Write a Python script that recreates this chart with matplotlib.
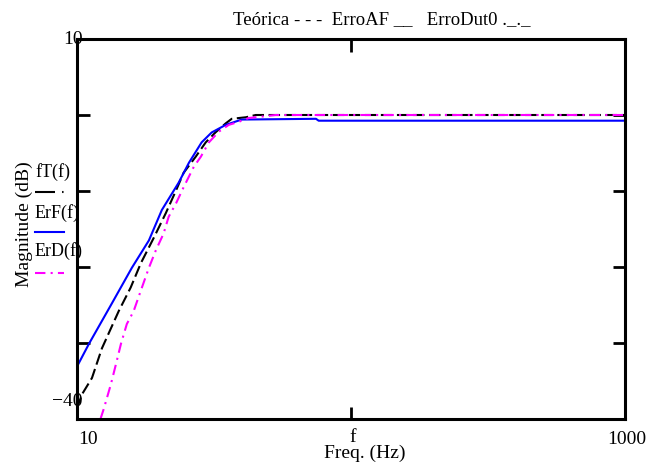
import numpy as np
import matplotlib.pyplot as plt
from matplotlib.lines import Line2D

plt.rcParams["font.family"] = ["Liberation Serif", "DejaVu Serif"]

# magnitude responses (Hz, dB)
freq_teorica = [10.0, 10.43, 11.34, 12.33, 14.2, 15.7, 17.1, 19.1, 21.1, 23.0,
                24.5, 27.1, 29.5, 32.0, 34.9, 36.7, 41.3, 44.9, 100.0, 1000.0]
mag_teorica = [-38.6, -36.75, -34.6, -30.7, -25.8, -22.7, -19.5, -16.1, -12.9, -9.9,
               -7.6, -5.5, -3.6, -2.3, -1.1, -0.5, -0.3, 0.0, 0.0, 0.0]

freq_erro_af = [10.0, 11.06, 13.4, 15.86, 18.3, 20.4, 23.5, 25.6, 28.5, 31.0,
                34.9, 39.9, 74.5, 76.2, 1000.0]
mag_erro_af = [-33.1, -30.1, -24.8, -20.1, -16.5, -12.5, -8.9, -6.3, -3.6, -2.3,
               -1.3, -0.6, -0.5, -0.75, -0.75]

freq_erro_dut = [12.18, 12.54, 13.3, 13.87, 14.47, 15.2, 16.1, 17.1, 18.3, 19.4,
                 20.7, 21.6, 23.0, 24.5, 26.7, 28.3, 30.3, 32.9, 35.8, 38.9,
                 42.3, 53.1, 1000.0]
mag_erro_dut = [-40.0, -38.6, -35.4, -32.8, -30.1, -27.5, -25.8, -23.1, -20.1, -17.8,
                -15.6, -13.4, -11.6, -9.5, -6.8, -5.5, -3.6, -2.2, -1.3, -0.9,
                -0.4, 0.0, 0.0]

W, H = 657, 468


def fx(px):
    return px / W


def fy(py):
    return 1 - py / H


fig = plt.figure(figsize=(6.57, 4.68), dpi=100)
ax = fig.add_axes([fx(77), fy(419), (625 - 77) / W, (419 - 39) / H])

black_style = dict(color="black", lw=1.5, dashes=(5.5, 2.2))
blue_style = dict(color="#0000ff", lw=1.5)
mag_style = dict(color="#ff00ff", lw=1.5, dashes=(5, 2.5, 1, 2.5))

ax.plot(freq_teorica, mag_teorica, **black_style)
ax.plot(freq_erro_af, mag_erro_af, **blue_style)
ax.plot(freq_erro_dut, mag_erro_dut, **mag_style)

ax.set_xscale("log")
ax.set_xlim(10, 1000)
ax.set_ylim(-40, 10)
ax.set_xticks([100])
ax.set_yticks([0, -10, -20, -30])
ax.minorticks_off()
ax.tick_params(axis="both", direction="in", width=2, length=9,
               labelbottom=False, labelleft=False,
               top=True, right=True)
for sp in ax.spines.values():
    sp.set_linewidth(2.2)

# axis labels drawn as plain text
fs = 14
fig.text(fx(73), fy(40), "10", fontsize=fs, ha="center", va="center")
fig.text(fx(67), fy(401), "\u221240", fontsize=fs, ha="center", va="center")
fig.text(fx(88), fy(439), "10", fontsize=fs, ha="center", va="center")
fig.text(fx(353), fy(437), "f", fontsize=fs, ha="center", va="center")
fig.text(fx(627), fy(439), "1000", fontsize=fs, ha="center", va="center")
fig.text(fx(365), fy(453), "Freq. (Hz)", fontsize=fs, ha="center", va="center")
fig.text(fx(24), fy(224), "Magnitude (dB)", fontsize=fs, ha="center",
         va="center", rotation=90)
fig.text(fx(382), fy(20), "Teórica - - -  ErroAF __   ErroDut0 ._._",
         fontsize=13.5, ha="center", va="center")

# trace names with sample strokes
legend = [("fT(f)", 172, 192, dict(black_style, dashes=(9.6, 3.4, 0.7, 3))),
          ("ErF(f)", 213, 232, blue_style),
          ("ErD(f)", 251, 273, mag_style)]
for name, ty, ly, style in legend:
    fig.text(fx(35), fy(ty), name, fontsize=13, ha="left", va="center")
    fig.add_artist(Line2D([fx(35), fx(64)], [fy(ly), fy(ly)],
                          transform=fig.transFigure, **style))

fig.savefig("out.png", dpi=100)
